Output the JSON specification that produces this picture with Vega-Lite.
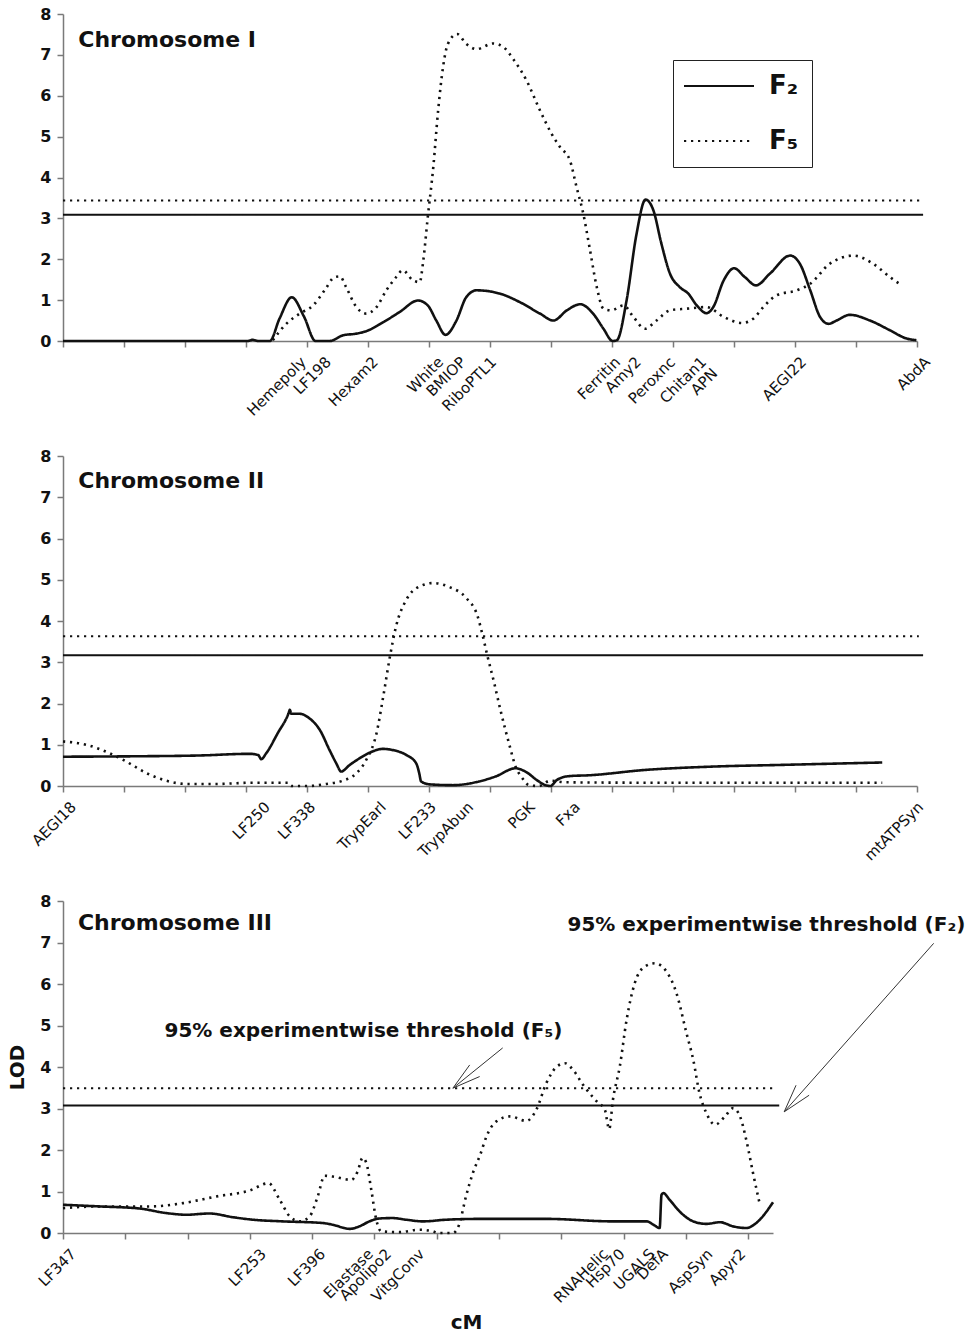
{
"$schema": "https://vega.github.io/schema/vega-lite/v6.json",
"background": "white",
"padding": {"left": 7, "top": 6, "right": 0, "bottom": 0},
"config": {
  "view": {"stroke": null},
  "axis": {"domainColor": "#7a7a7a", "tickColor": "#7a7a7a", "domainWidth": 1.5, "tickWidth": 1.5, "grid": false, "labelColor": "#111", "titleColor": "#111"},
  "axisY": {"labelFont": "DejaVu Sans", "labelFontSize": 16, "labelFontWeight": "bold", "tickSize": 6, "labelPadding": 6, "titleFont": "DejaVu Sans", "titleFontSize": 20, "titleFontWeight": "bold", "titlePadding": 12},
  "legend": {"orient": "none", "legendX": 610, "legendY": 46, "padding": 13, "strokeColor": "#222", "fillColor": "white", "symbolType": "M-3,0H3", "symbolSize": 544, "symbolOffset": 20, "symbolStrokeWidth": 2.2, "symbolStrokeColor": "#111", "symbolFillColor": "transparent", "labelFont": "DejaVu Sans", "labelFontSize": 26, "labelFontWeight": "bold", "labelColor": "#111", "labelOffset": 37, "rowPadding": 29, "labelLimit": 200}
},
"datasets": {
  "curves": [
    {"chrom":"I","series":"F2","cM":0,"LOD":0},{"chrom":"I","series":"F2","cM":30.3,"LOD":0},{"chrom":"I","series":"F2","cM":31.1,"LOD":0.03},{"chrom":"I","series":"F2","cM":32,"LOD":0},{"chrom":"I","series":"F2","cM":33.9,"LOD":0},{"chrom":"I","series":"F2","cM":35.5,"LOD":0.55},{"chrom":"I","series":"F2","cM":37.5,"LOD":1.07},{"chrom":"I","series":"F2","cM":39.5,"LOD":0.6},{"chrom":"I","series":"F2","cM":41.4,"LOD":0},{"chrom":"I","series":"F2","cM":43.7,"LOD":0},{"chrom":"I","series":"F2","cM":45.9,"LOD":0.14},{"chrom":"I","series":"F2","cM":48.1,"LOD":0.18},{"chrom":"I","series":"F2","cM":49.7,"LOD":0.24},{"chrom":"I","series":"F2","cM":52.5,"LOD":0.46},{"chrom":"I","series":"F2","cM":55.2,"LOD":0.71},{"chrom":"I","series":"F2","cM":58.2,"LOD":0.99},{"chrom":"I","series":"F2","cM":59.8,"LOD":0.87},{"chrom":"I","series":"F2","cM":61.2,"LOD":0.5},{"chrom":"I","series":"F2","cM":62.7,"LOD":0.15},{"chrom":"I","series":"F2","cM":64.5,"LOD":0.5},{"chrom":"I","series":"F2","cM":66.1,"LOD":1.07},{"chrom":"I","series":"F2","cM":67.8,"LOD":1.24},{"chrom":"I","series":"F2","cM":71.6,"LOD":1.16},{"chrom":"I","series":"F2","cM":74.9,"LOD":0.95},{"chrom":"I","series":"F2","cM":78.2,"LOD":0.67},{"chrom":"I","series":"F2","cM":80.4,"LOD":0.5},{"chrom":"I","series":"F2","cM":82.6,"LOD":0.75},{"chrom":"I","series":"F2","cM":84.8,"LOD":0.9},{"chrom":"I","series":"F2","cM":86.9,"LOD":0.67},{"chrom":"I","series":"F2","cM":88.6,"LOD":0.3},{"chrom":"I","series":"F2","cM":90.1,"LOD":0},{"chrom":"I","series":"F2","cM":90.8,"LOD":0.02},{"chrom":"I","series":"F2","cM":92.4,"LOD":1.0},{"chrom":"I","series":"F2","cM":94.0,"LOD":2.6},{"chrom":"I","series":"F2","cM":95.5,"LOD":3.46},{"chrom":"I","series":"F2","cM":96.8,"LOD":3.19},{"chrom":"I","series":"F2","cM":98.1,"LOD":2.38},{"chrom":"I","series":"F2","cM":99.5,"LOD":1.65},{"chrom":"I","series":"F2","cM":101.1,"LOD":1.32},{"chrom":"I","series":"F2","cM":102.5,"LOD":1.16},{"chrom":"I","series":"F2","cM":103.9,"LOD":0.87},{"chrom":"I","series":"F2","cM":105.5,"LOD":0.68},{"chrom":"I","series":"F2","cM":106.6,"LOD":0.83},{"chrom":"I","series":"F2","cM":108.3,"LOD":1.48},{"chrom":"I","series":"F2","cM":110.0,"LOD":1.78},{"chrom":"I","series":"F2","cM":111.8,"LOD":1.56},{"chrom":"I","series":"F2","cM":113.6,"LOD":1.36},{"chrom":"I","series":"F2","cM":115.9,"LOD":1.65},{"chrom":"I","series":"F2","cM":119.2,"LOD":2.09},{"chrom":"I","series":"F2","cM":120.8,"LOD":1.89},{"chrom":"I","series":"F2","cM":122.5,"LOD":1.24},{"chrom":"I","series":"F2","cM":124.1,"LOD":0.59},{"chrom":"I","series":"F2","cM":125.5,"LOD":0.42},{"chrom":"I","series":"F2","cM":126.8,"LOD":0.5},{"chrom":"I","series":"F2","cM":129.0,"LOD":0.64},{"chrom":"I","series":"F2","cM":132.3,"LOD":0.5},{"chrom":"I","series":"F2","cM":135.6,"LOD":0.26},{"chrom":"I","series":"F2","cM":138.3,"LOD":0.06},{"chrom":"I","series":"F2","cM":139.9,"LOD":0.02},
    {"chrom":"I","series":"F5","cM":34.4,"LOD":0.02},{"chrom":"I","series":"F5","cM":36.6,"LOD":0.42},{"chrom":"I","series":"F5","cM":38.8,"LOD":0.67},{"chrom":"I","series":"F5","cM":41.0,"LOD":0.87},{"chrom":"I","series":"F5","cM":42.9,"LOD":1.24},{"chrom":"I","series":"F5","cM":44.5,"LOD":1.56},{"chrom":"I","series":"F5","cM":45.4,"LOD":1.58},{"chrom":"I","series":"F5","cM":46.4,"LOD":1.32},{"chrom":"I","series":"F5","cM":48.1,"LOD":0.83},{"chrom":"I","series":"F5","cM":49.7,"LOD":0.67},{"chrom":"I","series":"F5","cM":51.4,"LOD":0.83},{"chrom":"I","series":"F5","cM":53.0,"LOD":1.24},{"chrom":"I","series":"F5","cM":54.6,"LOD":1.56},{"chrom":"I","series":"F5","cM":55.7,"LOD":1.73},{"chrom":"I","series":"F5","cM":57.4,"LOD":1.48},{"chrom":"I","series":"F5","cM":58.5,"LOD":1.44},{"chrom":"I","series":"F5","cM":59.0,"LOD":1.89},{"chrom":"I","series":"F5","cM":59.8,"LOD":3.03},{"chrom":"I","series":"F5","cM":60.7,"LOD":4.25},{"chrom":"I","series":"F5","cM":61.5,"LOD":5.64},{"chrom":"I","series":"F5","cM":62.3,"LOD":6.7},{"chrom":"I","series":"F5","cM":63.1,"LOD":7.27},{"chrom":"I","series":"F5","cM":64.6,"LOD":7.51},{"chrom":"I","series":"F5","cM":66.1,"LOD":7.27},{"chrom":"I","series":"F5","cM":67.8,"LOD":7.14},{"chrom":"I","series":"F5","cM":70.5,"LOD":7.28},{"chrom":"I","series":"F5","cM":72.2,"LOD":7.19},{"chrom":"I","series":"F5","cM":73.8,"LOD":6.9},{"chrom":"I","series":"F5","cM":76.0,"LOD":6.37},{"chrom":"I","series":"F5","cM":78.2,"LOD":5.64},{"chrom":"I","series":"F5","cM":80.1,"LOD":5.07},{"chrom":"I","series":"F5","cM":81.5,"LOD":4.74},{"chrom":"I","series":"F5","cM":83.1,"LOD":4.42},{"chrom":"I","series":"F5","cM":84.2,"LOD":3.76},{"chrom":"I","series":"F5","cM":85.3,"LOD":3.11},{"chrom":"I","series":"F5","cM":86.4,"LOD":2.22},{"chrom":"I","series":"F5","cM":87.5,"LOD":1.32},{"chrom":"I","series":"F5","cM":88.6,"LOD":0.79},{"chrom":"I","series":"F5","cM":89.9,"LOD":0.75},{"chrom":"I","series":"F5","cM":91.9,"LOD":0.87},{"chrom":"I","series":"F5","cM":93.5,"LOD":0.59},{"chrom":"I","series":"F5","cM":95.4,"LOD":0.3},{"chrom":"I","series":"F5","cM":97.3,"LOD":0.5},{"chrom":"I","series":"F5","cM":99.5,"LOD":0.75},{"chrom":"I","series":"F5","cM":102.2,"LOD":0.79},{"chrom":"I","series":"F5","cM":105.5,"LOD":0.83},{"chrom":"I","series":"F5","cM":108.3,"LOD":0.59},{"chrom":"I","series":"F5","cM":111.3,"LOD":0.44},{"chrom":"I","series":"F5","cM":113.2,"LOD":0.55},{"chrom":"I","series":"F5","cM":114.8,"LOD":0.83},{"chrom":"I","series":"F5","cM":117.0,"LOD":1.12},{"chrom":"I","series":"F5","cM":120.3,"LOD":1.24},{"chrom":"I","series":"F5","cM":122.5,"LOD":1.4},{"chrom":"I","series":"F5","cM":125.7,"LOD":1.89},{"chrom":"I","series":"F5","cM":129.6,"LOD":2.09},{"chrom":"I","series":"F5","cM":132.8,"LOD":1.89},{"chrom":"I","series":"F5","cM":135.6,"LOD":1.56},{"chrom":"I","series":"F5","cM":137.5,"LOD":1.36},
    {"chrom":"II","series":"F2","cM":0,"LOD":0.71},{"chrom":"II","series":"F2","cM":11.5,"LOD":0.72},{"chrom":"II","series":"F2","cM":22.4,"LOD":0.74},{"chrom":"II","series":"F2","cM":30.6,"LOD":0.78},{"chrom":"II","series":"F2","cM":32.0,"LOD":0.75},{"chrom":"II","series":"F2","cM":32.5,"LOD":0.65},{"chrom":"II","series":"F2","cM":33.3,"LOD":0.79},{"chrom":"II","series":"F2","cM":35.2,"LOD":1.28},{"chrom":"II","series":"F2","cM":37.0,"LOD":1.77},{"chrom":"II","series":"F2","cM":37.2,"LOD":1.85},{"chrom":"II","series":"F2","cM":37.4,"LOD":1.75},{"chrom":"II","series":"F2","cM":38.8,"LOD":1.75},{"chrom":"II","series":"F2","cM":40.4,"LOD":1.64},{"chrom":"II","series":"F2","cM":42.1,"LOD":1.36},{"chrom":"II","series":"F2","cM":43.7,"LOD":0.87},{"chrom":"II","series":"F2","cM":44.8,"LOD":0.55},{"chrom":"II","series":"F2","cM":45.6,"LOD":0.35},{"chrom":"II","series":"F2","cM":47.0,"LOD":0.51},{"chrom":"II","series":"F2","cM":48.6,"LOD":0.67},{"chrom":"II","series":"F2","cM":50.3,"LOD":0.81},{"chrom":"II","series":"F2","cM":52.5,"LOD":0.9},{"chrom":"II","series":"F2","cM":54.1,"LOD":0.87},{"chrom":"II","series":"F2","cM":56.3,"LOD":0.75},{"chrom":"II","series":"F2","cM":57.9,"LOD":0.55},{"chrom":"II","series":"F2","cM":58.4,"LOD":0.31},{"chrom":"II","series":"F2","cM":58.7,"LOD":0.11},{"chrom":"II","series":"F2","cM":60.1,"LOD":0.04},{"chrom":"II","series":"F2","cM":63.9,"LOD":0.02},{"chrom":"II","series":"F2","cM":68.2,"LOD":0.11},{"chrom":"II","series":"F2","cM":70.9,"LOD":0.23},{"chrom":"II","series":"F2","cM":74.2,"LOD":0.43},{"chrom":"II","series":"F2","cM":75.8,"LOD":0.35},{"chrom":"II","series":"F2","cM":78.0,"LOD":0.11},{"chrom":"II","series":"F2","cM":79.1,"LOD":0.02},{"chrom":"II","series":"F2","cM":79.9,"LOD":0},{"chrom":"II","series":"F2","cM":81.0,"LOD":0.15},{"chrom":"II","series":"F2","cM":83.0,"LOD":0.24},{"chrom":"II","series":"F2","cM":86.2,"LOD":0.26},{"chrom":"II","series":"F2","cM":95.5,"LOD":0.39},{"chrom":"II","series":"F2","cM":106.4,"LOD":0.47},{"chrom":"II","series":"F2","cM":117.4,"LOD":0.51},{"chrom":"II","series":"F2","cM":134.3,"LOD":0.57},
    {"chrom":"II","series":"F5","cM":0,"LOD":1.08},{"chrom":"II","series":"F5","cM":3.8,"LOD":1.0},{"chrom":"II","series":"F5","cM":7.7,"LOD":0.79},{"chrom":"II","series":"F5","cM":10.4,"LOD":0.59},{"chrom":"II","series":"F5","cM":13.7,"LOD":0.31},{"chrom":"II","series":"F5","cM":16.9,"LOD":0.13},{"chrom":"II","series":"F5","cM":20.2,"LOD":0.05},{"chrom":"II","series":"F5","cM":25.1,"LOD":0.05},{"chrom":"II","series":"F5","cM":31.1,"LOD":0.08},{"chrom":"II","series":"F5","cM":36.9,"LOD":0.08},{"chrom":"II","series":"F5","cM":37.4,"LOD":0},{"chrom":"II","series":"F5","cM":40.2,"LOD":0},{"chrom":"II","series":"F5","cM":43.2,"LOD":0.05},{"chrom":"II","series":"F5","cM":45.9,"LOD":0.13},{"chrom":"II","series":"F5","cM":48.1,"LOD":0.31},{"chrom":"II","series":"F5","cM":49.7,"LOD":0.63},{"chrom":"II","series":"F5","cM":51.4,"LOD":1.28},{"chrom":"II","series":"F5","cM":52.5,"LOD":2.17},{"chrom":"II","series":"F5","cM":53.6,"LOD":3.14},{"chrom":"II","series":"F5","cM":54.6,"LOD":3.87},{"chrom":"II","series":"F5","cM":56.3,"LOD":4.52},{"chrom":"II","series":"F5","cM":58.5,"LOD":4.84},{"chrom":"II","series":"F5","cM":60.7,"LOD":4.92},{"chrom":"II","series":"F5","cM":63.4,"LOD":4.82},{"chrom":"II","series":"F5","cM":66.1,"LOD":4.56},{"chrom":"II","series":"F5","cM":68.0,"LOD":4.1},{"chrom":"II","series":"F5","cM":68.7,"LOD":3.71},{"chrom":"II","series":"F5","cM":69.6,"LOD":3.14},{"chrom":"II","series":"F5","cM":70.7,"LOD":2.49},{"chrom":"II","series":"F5","cM":71.7,"LOD":1.85},{"chrom":"II","series":"F5","cM":73.1,"LOD":1.04},{"chrom":"II","series":"F5","cM":74.2,"LOD":0.47},{"chrom":"II","series":"F5","cM":75.3,"LOD":0.19},{"chrom":"II","series":"F5","cM":76.4,"LOD":0.02},{"chrom":"II","series":"F5","cM":78.0,"LOD":0},{"chrom":"II","series":"F5","cM":79.9,"LOD":0.13},{"chrom":"II","series":"F5","cM":82.4,"LOD":0.09},{"chrom":"II","series":"F5","cM":95.5,"LOD":0.08},{"chrom":"II","series":"F5","cM":134.3,"LOD":0.08},
    {"chrom":"III","series":"F2","cM":0,"LOD":0.68},{"chrom":"III","series":"F2","cM":5.9,"LOD":0.64},{"chrom":"III","series":"F2","cM":12.3,"LOD":0.59},{"chrom":"III","series":"F2","cM":16.6,"LOD":0.48},{"chrom":"III","series":"F2","cM":19.8,"LOD":0.44},{"chrom":"III","series":"F2","cM":23.5,"LOD":0.47},{"chrom":"III","series":"F2","cM":27.3,"LOD":0.38},{"chrom":"III","series":"F2","cM":30.5,"LOD":0.32},{"chrom":"III","series":"F2","cM":35.3,"LOD":0.28},{"chrom":"III","series":"F2","cM":41.7,"LOD":0.24},{"chrom":"III","series":"F2","cM":43.3,"LOD":0.2},{"chrom":"III","series":"F2","cM":46.0,"LOD":0.1},{"chrom":"III","series":"F2","cM":47.6,"LOD":0.16},{"chrom":"III","series":"F2","cM":49.2,"LOD":0.28},{"chrom":"III","series":"F2","cM":50.8,"LOD":0.35},{"chrom":"III","series":"F2","cM":52.9,"LOD":0.36},{"chrom":"III","series":"F2","cM":55.1,"LOD":0.32},{"chrom":"III","series":"F2","cM":57.8,"LOD":0.28},{"chrom":"III","series":"F2","cM":61.5,"LOD":0.32},{"chrom":"III","series":"F2","cM":67.0,"LOD":0.34},{"chrom":"III","series":"F2","cM":77.6,"LOD":0.34},{"chrom":"III","series":"F2","cM":88.3,"LOD":0.28},{"chrom":"III","series":"F2","cM":93.7,"LOD":0.28},{"chrom":"III","series":"F2","cM":94.8,"LOD":0.2},{"chrom":"III","series":"F2","cM":95.8,"LOD":0.12},{"chrom":"III","series":"F2","cM":96.1,"LOD":0.92},{"chrom":"III","series":"F2","cM":96.4,"LOD":0.96},{"chrom":"III","series":"F2","cM":97.4,"LOD":0.8},{"chrom":"III","series":"F2","cM":99.0,"LOD":0.52},{"chrom":"III","series":"F2","cM":101.2,"LOD":0.28},{"chrom":"III","series":"F2","cM":103.3,"LOD":0.22},{"chrom":"III","series":"F2","cM":105.5,"LOD":0.26},{"chrom":"III","series":"F2","cM":107.6,"LOD":0.16},{"chrom":"III","series":"F2","cM":109.7,"LOD":0.12},{"chrom":"III","series":"F2","cM":111.3,"LOD":0.24},{"chrom":"III","series":"F2","cM":114.0,"LOD":0.74},
    {"chrom":"III","series":"F5","cM":0,"LOD":0.6},{"chrom":"III","series":"F5","cM":5.9,"LOD":0.64},{"chrom":"III","series":"F5","cM":13.9,"LOD":0.64},{"chrom":"III","series":"F5","cM":19.3,"LOD":0.72},{"chrom":"III","series":"F5","cM":24.6,"LOD":0.88},{"chrom":"III","series":"F5","cM":29.9,"LOD":1.02},{"chrom":"III","series":"F5","cM":33.0,"LOD":1.2},{"chrom":"III","series":"F5","cM":34.8,"LOD":0.8},{"chrom":"III","series":"F5","cM":36.4,"LOD":0.4},{"chrom":"III","series":"F5","cM":38.0,"LOD":0.28},{"chrom":"III","series":"F5","cM":39.6,"LOD":0.4},{"chrom":"III","series":"F5","cM":40.9,"LOD":0.88},{"chrom":"III","series":"F5","cM":42.0,"LOD":1.38},{"chrom":"III","series":"F5","cM":43.3,"LOD":1.36},{"chrom":"III","series":"F5","cM":46.3,"LOD":1.28},{"chrom":"III","series":"F5","cM":47.3,"LOD":1.48},{"chrom":"III","series":"F5","cM":48.1,"LOD":1.81},{"chrom":"III","series":"F5","cM":48.7,"LOD":1.69},{"chrom":"III","series":"F5","cM":49.5,"LOD":1.04},{"chrom":"III","series":"F5","cM":50.3,"LOD":0.32},{"chrom":"III","series":"F5","cM":51.1,"LOD":0.04},{"chrom":"III","series":"F5","cM":54.0,"LOD":0.02},{"chrom":"III","series":"F5","cM":57.2,"LOD":0.08},{"chrom":"III","series":"F5","cM":59.4,"LOD":0.04},{"chrom":"III","series":"F5","cM":60.2,"LOD":0},{"chrom":"III","series":"F5","cM":62.6,"LOD":0},{"chrom":"III","series":"F5","cM":63.6,"LOD":0.2},{"chrom":"III","series":"F5","cM":64.7,"LOD":0.88},{"chrom":"III","series":"F5","cM":65.8,"LOD":1.44},{"chrom":"III","series":"F5","cM":67.0,"LOD":1.89},{"chrom":"III","series":"F5","cM":68.0,"LOD":2.33},{"chrom":"III","series":"F5","cM":69.6,"LOD":2.69},{"chrom":"III","series":"F5","cM":71.8,"LOD":2.81},{"chrom":"III","series":"F5","cM":74.4,"LOD":2.7},{"chrom":"III","series":"F5","cM":76.0,"LOD":2.97},{"chrom":"III","series":"F5","cM":77.6,"LOD":3.61},{"chrom":"III","series":"F5","cM":79.3,"LOD":4.01},{"chrom":"III","series":"F5","cM":80.6,"LOD":4.09},{"chrom":"III","series":"F5","cM":81.9,"LOD":3.93},{"chrom":"III","series":"F5","cM":83.5,"LOD":3.57},{"chrom":"III","series":"F5","cM":85.7,"LOD":3.17},{"chrom":"III","series":"F5","cM":87.0,"LOD":2.97},{"chrom":"III","series":"F5","cM":87.7,"LOD":2.5},{"chrom":"III","series":"F5","cM":88.3,"LOD":3.21},{"chrom":"III","series":"F5","cM":89.4,"LOD":4.01},{"chrom":"III","series":"F5","cM":90.5,"LOD":5.14},{"chrom":"III","series":"F5","cM":91.8,"LOD":6.02},{"chrom":"III","series":"F5","cM":93.4,"LOD":6.42},{"chrom":"III","series":"F5","cM":95.0,"LOD":6.5},{"chrom":"III","series":"F5","cM":96.9,"LOD":6.3},{"chrom":"III","series":"F5","cM":98.5,"LOD":5.78},{"chrom":"III","series":"F5","cM":100.1,"LOD":4.82},{"chrom":"III","series":"F5","cM":101.2,"LOD":4.17},{"chrom":"III","series":"F5","cM":102.2,"LOD":3.37},{"chrom":"III","series":"F5","cM":103.3,"LOD":2.89},{"chrom":"III","series":"F5","cM":104.7,"LOD":2.61},{"chrom":"III","series":"F5","cM":106.3,"LOD":2.81},{"chrom":"III","series":"F5","cM":107.6,"LOD":3.01},{"chrom":"III","series":"F5","cM":108.7,"LOD":2.81},{"chrom":"III","series":"F5","cM":109.7,"LOD":2.25},{"chrom":"III","series":"F5","cM":110.8,"LOD":1.44},{"chrom":"III","series":"F5","cM":111.9,"LOD":0.68}
  ],
  "thresholds": [
    {"chrom":"I","series":"F2","LOD":3.09,"start":0,"end":141},
    {"chrom":"I","series":"F5","LOD":3.44,"start":0,"end":140.5},
    {"chrom":"II","series":"F2","LOD":3.17,"start":0,"end":141},
    {"chrom":"II","series":"F5","LOD":3.63,"start":0,"end":140.3},
    {"chrom":"III","series":"F2","LOD":3.07,"start":0,"end":115},
    {"chrom":"III","series":"F5","LOD":3.49,"start":0,"end":114}
  ],
  "notes": [
    {"chrom":"I","kind":"title","text":"Chromosome I","cM":2.5,"LOD":7.36},
    {"chrom":"II","kind":"title","text":"Chromosome II","cM":2.5,"LOD":7.4},
    {"chrom":"III","kind":"title","text":"Chromosome III","cM":2.4,"LOD":7.47},
    {"chrom":"III","kind":"note","text":"95% experimentwise threshold (F₅)","cM":16.3,"LOD":4.86},
    {"chrom":"III","kind":"note","text":"95% experimentwise threshold (F₂)","cM":81.0,"LOD":7.42}
  ],
  "arrows": [
    {"chrom":"III","cM":70.6,"LOD":4.46,"cM2":62.6,"LOD2":3.49},
    {"chrom":"III","cM":62.6,"LOD":3.49,"cM2":65.3,"LOD2":4.05},
    {"chrom":"III","cM":62.6,"LOD":3.49,"cM2":66.9,"LOD2":3.77},
    {"chrom":"III","cM":139.8,"LOD":6.98,"cM2":115.8,"LOD2":2.92},
    {"chrom":"III","cM":115.8,"LOD":2.92,"cM2":117.7,"LOD2":3.56},
    {"chrom":"III","cM":115.8,"LOD":2.92,"cM2":119.8,"LOD2":3.32}
  ]
},
"vconcat": [
  {
    "width": 854, "height": 327,
    "layer": [
      {"data": {"name": "curves"}, "transform": [{"filter": "datum.chrom === 'I'"}],
       "mark": {"type": "line", "interpolate": "monotone", "strokeWidth": 2.6, "strokeJoin": "round", "color": "#111"},
       "encoding": {
         "x": {"field": "cM", "type": "quantitative", "scale": {"domain": [0, 140], "nice": false, "zero": false},
               "axis": {"orient": "bottom", "values": [0,10,20,30,40,50,60,70,80,90,100,110,120,130,140], "labels": false, "tickSize": 6, "title": null}},
         "y": {"field": "LOD", "type": "quantitative", "scale": {"domain": [0, 8], "nice": false}, "axis": {"values": [0,1,2,3,4,5,6,7,8], "title": null}},
         "strokeDash": {"field": "series", "type": "nominal", "scale": {"domain": ["F2","F5"], "range": [[1,0],[2.2,4.8]]}, "legend": {"title": null, "labelExpr": "datum.label === 'F2' ? 'F₂' : 'F₅'"}}
       }},
      {"data": {"name": "thresholds"}, "transform": [{"filter": "datum.chrom === 'I'"}],
       "mark": {"type": "rule", "strokeWidth": 2, "color": "#111"},
       "encoding": {
         "x": {"field": "start", "type": "quantitative", "scale": {"domain": [0, 140], "nice": false, "zero": false},
               "axis": {"orient": "bottom", "values": [37.7,41.8,49.5,60.2,63.9,68.9,89.2,92.6,98.2,103.3,119.7,140],
                        "labelExpr": "['Hemepoly','LF198','Hexam2','White','BMIOP','RiboPTL1','Ferritin','Amy2','Peroxnc',['Chitan1','APN'],'AEGI22','AbdA'][indexof([37.7,41.8,49.5,60.2,63.9,68.9,89.2,92.6,98.2,103.3,119.7,140], datum.value)]",
                        "domain": false, "ticks": false, "labelAngle": -45, "labelAlign": "right", "labelBaseline": "middle", "labelPadding": 18, "labelOffset": 10, "labelFont": "DejaVu Sans", "labelFontSize": 15, "labelOverlap": false, "labelFlush": false, "labelBound": false, "labelLineHeight": 16, "title": null}},
         "x2": {"field": "end"},
         "y": {"field": "LOD", "type": "quantitative", "scale": {"domain": [0, 8], "nice": false}, "axis": {"values": [0,1,2,3,4,5,6,7,8], "title": null}},
         "strokeDash": {"field": "series", "type": "nominal", "scale": {"domain": ["F2","F5"], "range": [[1,0],[2.2,4.8]]}, "legend": {"title": null, "labelExpr": "datum.label === 'F2' ? 'F₂' : 'F₅'"}}
       }},
      {"data": {"name": "notes"}, "transform": [{"filter": "datum.chrom === 'I' && datum.kind === 'title'"}],
       "mark": {"type": "text", "align": "left", "baseline": "middle", "font": "DejaVu Sans", "fontWeight": "bold", "fontSize": 22, "color": "#111"},
       "encoding": {
         "x": {"field": "cM", "type": "quantitative", "scale": {"domain": [0, 140], "nice": false, "zero": false}, "axis": null},
         "y": {"field": "LOD", "type": "quantitative", "scale": {"domain": [0, 8], "nice": false}, "axis": {"values": [0,1,2,3,4,5,6,7,8], "title": null}},
         "text": {"field": "text"}
       }}
    ],
    "resolve": {"axis": {"x": "independent"}}
  },
  {
    "width": 854, "height": 330,
    "layer": [
      {"data": {"name": "curves"}, "transform": [{"filter": "datum.chrom === 'II'"}],
       "mark": {"type": "line", "interpolate": "monotone", "strokeWidth": 2.6, "strokeJoin": "round", "color": "#111"},
       "encoding": {
         "x": {"field": "cM", "type": "quantitative", "scale": {"domain": [0, 140], "nice": false, "zero": false},
               "axis": {"orient": "bottom", "values": [0,10,20,30,40,50,60,70,80,90,100,110,120,130,140], "labels": false, "tickSize": 6, "title": null}},
         "y": {"field": "LOD", "type": "quantitative", "scale": {"domain": [0, 8], "nice": false}, "axis": {"values": [0,1,2,3,4,5,6,7,8], "title": null}},
         "strokeDash": {"field": "series", "type": "nominal", "scale": {"domain": ["F2","F5"], "range": [[1,0],[2.2,4.8]]}, "legend": {"title": null, "labelExpr": "datum.label === 'F2' ? 'F₂' : 'F₅'"}}
       }},
      {"data": {"name": "thresholds"}, "transform": [{"filter": "datum.chrom === 'II'"}],
       "mark": {"type": "rule", "strokeWidth": 2, "color": "#111"},
       "encoding": {
         "x": {"field": "start", "type": "quantitative", "scale": {"domain": [0, 140], "nice": false, "zero": false},
               "axis": {"orient": "bottom", "values": [0,31.8,39.2,50.8,59,65.1,75.2,82.6,138.9],
                        "labelExpr": "['AEGI18','LF250','LF338','TrypEarl','LF233','TrypAbun','PGK','Fxa','mtATPSyn'][indexof([0,31.8,39.2,50.8,59,65.1,75.2,82.6,138.9], datum.value)]",
                        "domain": false, "ticks": false, "labelAngle": -45, "labelAlign": "right", "labelBaseline": "middle", "labelPadding": 18, "labelOffset": 10, "labelFont": "DejaVu Sans", "labelFontSize": 15, "labelOverlap": false, "labelFlush": false, "labelBound": false, "title": null}},
         "x2": {"field": "end"},
         "y": {"field": "LOD", "type": "quantitative", "scale": {"domain": [0, 8], "nice": false}, "axis": {"values": [0,1,2,3,4,5,6,7,8], "title": null}},
         "strokeDash": {"field": "series", "type": "nominal", "scale": {"domain": ["F2","F5"], "range": [[1,0],[2.2,4.8]]}, "legend": {"title": null, "labelExpr": "datum.label === 'F2' ? 'F₂' : 'F₅'"}}
       }},
      {"data": {"name": "notes"}, "transform": [{"filter": "datum.chrom === 'II' && datum.kind === 'title'"}],
       "mark": {"type": "text", "align": "left", "baseline": "middle", "font": "DejaVu Sans", "fontWeight": "bold", "fontSize": 22, "color": "#111"},
       "encoding": {
         "x": {"field": "cM", "type": "quantitative", "scale": {"domain": [0, 140], "nice": false, "zero": false}, "axis": null},
         "y": {"field": "LOD", "type": "quantitative", "scale": {"domain": [0, 8], "nice": false}, "axis": {"values": [0,1,2,3,4,5,6,7,8], "title": null}},
         "text": {"field": "text"}
       }}
    ],
    "resolve": {"axis": {"x": "independent"}}
  },
  {
    "width": 710, "height": 332,
    "layer": [
      {"data": {"name": "curves"}, "transform": [{"filter": "datum.chrom === 'III'"}],
       "mark": {"type": "line", "interpolate": "monotone", "strokeWidth": 2.6, "strokeJoin": "round", "color": "#111"},
       "encoding": {
         "x": {"field": "cM", "type": "quantitative", "scale": {"domain": [0, 114], "nice": false, "zero": false},
               "axis": {"orient": "bottom", "values": [0,10,20,30,40,50,60,70,80,90,100,110], "labels": false, "tickSize": 6, "title": null}},
         "y": {"field": "LOD", "type": "quantitative", "scale": {"domain": [0, 8], "nice": false}, "axis": {"values": [0,1,2,3,4,5,6,7,8], "title": "LOD"}},
         "strokeDash": {"field": "series", "type": "nominal", "scale": {"domain": ["F2","F5"], "range": [[1,0],[2.2,4.8]]}, "legend": {"title": null, "labelExpr": "datum.label === 'F2' ? 'F₂' : 'F₅'"}}
       }},
      {"data": {"name": "thresholds"}, "transform": [{"filter": "datum.chrom === 'III'"}],
       "mark": {"type": "rule", "strokeWidth": 2, "color": "#111"},
       "encoding": {
         "x": {"field": "start", "type": "quantitative", "scale": {"domain": [0, 114], "nice": false, "zero": false},
               "axis": {"orient": "bottom", "values": [0,30.5,40,47.7,50.6,55.9,85.4,88.1,92.9,95,102.2,107.5],
                        "labelExpr": "['LF347','LF253','LF396','Elastase','Apolipo2','VitgConv','RNAHelic','Hsp70','UGALS','DefA','AspSyn','Apyr2'][indexof([0,30.5,40,47.7,50.6,55.9,85.4,88.1,92.9,95,102.2,107.5], datum.value)]",
                        "domain": false, "ticks": false, "labelAngle": -45, "labelAlign": "right", "labelBaseline": "middle", "labelPadding": 18, "labelOffset": 10, "labelFont": "DejaVu Sans", "labelFontSize": 15, "labelOverlap": false, "labelFlush": false, "labelBound": false,
                        "title": "cM", "titleFont": "DejaVu Sans", "titleFontSize": 20, "titleFontWeight": "bold", "titleX": 403, "titleY": 89, "titleBaseline": "middle"}},
         "x2": {"field": "end"},
         "y": {"field": "LOD", "type": "quantitative", "scale": {"domain": [0, 8], "nice": false}, "axis": {"values": [0,1,2,3,4,5,6,7,8], "title": "LOD"}},
         "strokeDash": {"field": "series", "type": "nominal", "scale": {"domain": ["F2","F5"], "range": [[1,0],[2.2,4.8]]}, "legend": {"title": null, "labelExpr": "datum.label === 'F2' ? 'F₂' : 'F₅'"}}
       }},
      {"data": {"name": "arrows"}, "transform": [{"filter": "datum.chrom === 'III'"}],
       "mark": {"type": "rule", "strokeWidth": 1, "color": "#333"},
       "encoding": {
         "x": {"field": "cM", "type": "quantitative", "scale": {"domain": [0, 114], "nice": false, "zero": false}, "axis": null},
         "x2": {"field": "cM2"},
         "y": {"field": "LOD", "type": "quantitative", "scale": {"domain": [0, 8], "nice": false}, "axis": {"values": [0,1,2,3,4,5,6,7,8], "title": "LOD"}},
         "y2": {"field": "LOD2"}
       }},
      {"data": {"name": "notes"}, "transform": [{"filter": "datum.chrom === 'III' && datum.kind === 'title'"}],
       "mark": {"type": "text", "align": "left", "baseline": "middle", "font": "DejaVu Sans", "fontWeight": "bold", "fontSize": 22, "color": "#111"},
       "encoding": {
         "x": {"field": "cM", "type": "quantitative", "scale": {"domain": [0, 114], "nice": false, "zero": false}, "axis": null},
         "y": {"field": "LOD", "type": "quantitative", "scale": {"domain": [0, 8], "nice": false}, "axis": {"values": [0,1,2,3,4,5,6,7,8], "title": "LOD"}},
         "text": {"field": "text"}
       }},
      {"data": {"name": "notes"}, "transform": [{"filter": "datum.chrom === 'III' && datum.kind === 'note'"}],
       "mark": {"type": "text", "align": "left", "baseline": "middle", "font": "DejaVu Sans", "fontWeight": "bold", "fontSize": 20, "color": "#111"},
       "encoding": {
         "x": {"field": "cM", "type": "quantitative", "scale": {"domain": [0, 114], "nice": false, "zero": false}, "axis": null},
         "y": {"field": "LOD", "type": "quantitative", "scale": {"domain": [0, 8], "nice": false}, "axis": {"values": [0,1,2,3,4,5,6,7,8], "title": "LOD"}},
         "text": {"field": "text"}
       }}
    ],
    "resolve": {"axis": {"x": "independent"}}
  }
],
"spacing": 115,
"bounds": "flush"
}
